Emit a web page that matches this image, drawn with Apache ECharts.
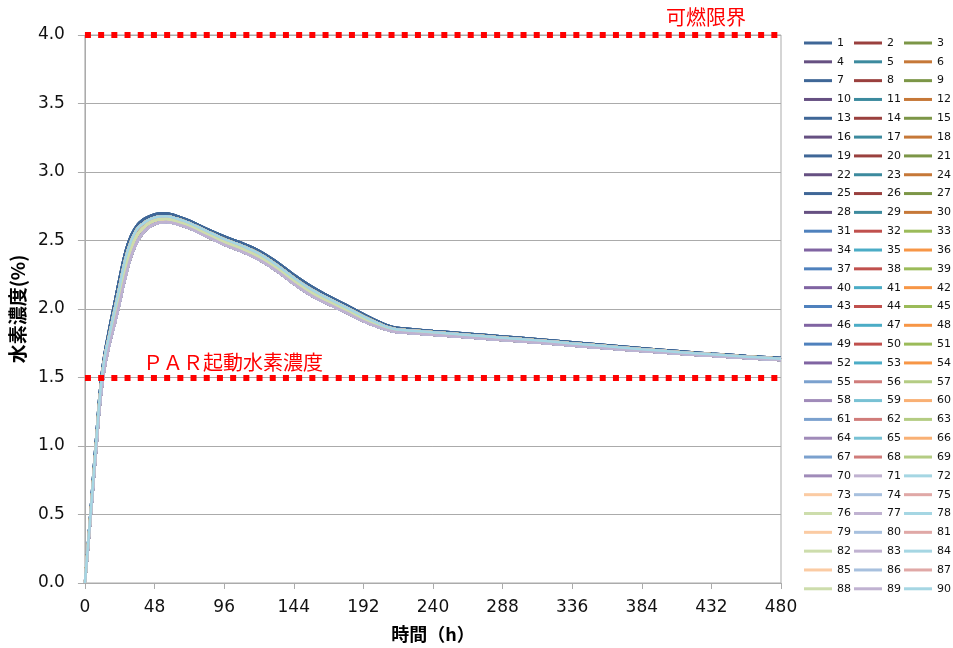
<!DOCTYPE html>
<html>
<head>
<meta charset="utf-8">
<script src="https://cdn.jsdelivr.net/npm/echarts@6/dist/echarts.min.js"></script>
<style>
  html, body { margin: 0; padding: 0; background: #fff; }
  #chart_h2 { width: 953px; height: 648px; }
</style>
</head>
<body>
<div id="chart_h2"></div>
<script>
// 時間 (h)
var hours = [0, 2, 4, 6, 8, 10, 12, 14, 16, 18, 20, 24, 28, 32, 36, 40, 44, 48, 52, 56, 60, 66, 72, 84, 96,
    108, 120, 132, 144, 156, 168, 180, 192, 204, 212, 220, 240, 264, 288, 312, 336, 360, 384, 408, 432, 456, 480];

// 水素濃度 (%) - 帯の上端から下端までの4本
var h2Top = [0, 0.27, 0.54, 0.82, 1.09, 1.36, 1.56, 1.70, 1.81, 1.92, 2.02, 2.23, 2.42, 2.54, 2.612, 2.652, 2.675, 2.69, 2.697, 2.697,
    2.69, 2.668, 2.645, 2.585, 2.53, 2.482, 2.425, 2.345, 2.25, 2.165, 2.095, 2.03, 1.962, 1.90, 1.868, 1.857, 1.84, 1.82, 1.80, 1.78,
    1.757, 1.735, 1.713, 1.693, 1.674, 1.657, 1.642];
var h2Upper = [0, 0.26, 0.52, 0.79, 1.06, 1.33, 1.53, 1.67, 1.77, 1.87, 1.97, 2.17, 2.37, 2.50, 2.585, 2.623, 2.65, 2.667, 2.676, 2.677,
    2.67, 2.65, 2.627, 2.568, 2.51, 2.462, 2.404, 2.323, 2.228, 2.143, 2.075, 2.012, 1.946, 1.887, 1.857, 1.847, 1.831, 1.811, 1.791, 1.771,
    1.749, 1.728, 1.706, 1.687, 1.669, 1.652, 1.637];
var h2Lower = [0, 0.25, 0.50, 0.77, 1.03, 1.30, 1.50, 1.63, 1.73, 1.83, 1.92, 2.11, 2.30, 2.45, 2.54, 2.59, 2.625, 2.645, 2.655, 2.657,
    2.65, 2.63, 2.608, 2.549, 2.49, 2.441, 2.382, 2.302, 2.207, 2.121, 2.055, 1.993, 1.929, 1.874, 1.847, 1.837, 1.821, 1.802, 1.782, 1.763,
    1.741, 1.72, 1.70, 1.681, 1.663, 1.647, 1.632];
var h2Bottom = [0, 0.24, 0.49, 0.75, 1.01, 1.27, 1.46, 1.60, 1.70, 1.79, 1.87, 2.05, 2.24, 2.39, 2.49, 2.555, 2.595, 2.62, 2.632, 2.635,
    2.63, 2.612, 2.59, 2.53, 2.47, 2.42, 2.36, 2.28, 2.185, 2.10, 2.035, 1.975, 1.912, 1.862, 1.838, 1.828, 1.812, 1.793, 1.774, 1.755,
    1.733, 1.713, 1.693, 1.675, 1.658, 1.642, 1.627];

// 基準線
var limitLevels = [4.0, 1.5];
var limitNames = ['可燃限界', 'ＰＡＲ起動水素濃度'];

var caseCount = 90;
var yTicks = [0, 0.5, 1.0, 1.5, 2.0, 2.5, 3.0, 3.5, 4.0];
var xTicks = [0, 48, 96, 144, 192, 240, 288, 336, 384, 432, 480];

// Excel風の配色
var accents = ['#4F81BD', '#C0504D', '#9BBB59', '#8064A2', '#4BACC6', '#F79646'];

function mix(hex, target, t) {
    var r = parseInt(hex.substr(1, 2), 16), g = parseInt(hex.substr(3, 2), 16), b = parseInt(hex.substr(5, 2), 16);
    r = Math.round(r + (target - r) * t);
    g = Math.round(g + (target - g) * t);
    b = Math.round(b + (target - b) * t);
    return 'rgb(' + r + ',' + g + ',' + b + ')';
}

function caseColor(i) {
    var k = i <= 70 ? (i - 1) % 6 : (i - 2) % 6;
    if (i <= 30) return mix(accents[k], 0, 0.2);
    if (i <= 54) return accents[k];
    if (i <= 70) return mix(accents[k], 255, 0.25);
    return mix(accents[k], 255, 0.5);
}

function pairs(vals) {
    return hours.map(function (h, j) { return [h, vals[j]]; });
}

var curves = [pairs(h2Upper), pairs(h2Lower), pairs(h2Bottom)];
var series = [];
var legendCols = [[], [], []];
for (var i = 1; i <= caseCount; i++) {
    var data = (i <= 30 && (i - 1) % 6 === 0) ? pairs(h2Top) : curves[i % 3];
    series.push({
        name: String(i),
        type: 'line',
        data: data,
        showSymbol: false,
        symbol: 'none',
        smooth: 0.4,
        color: caseColor(i),
        lineStyle: { width: 2.5 },
        emphasis: { disabled: true }
    });
    legendCols[(i - 1) % 3].push(String(i));
}

// 赤点線
series.push({
    name: 'limits',
    type: 'line',
    data: [],
    markLine: {
        silent: true,
        symbol: 'none',
        label: { show: false },
        lineStyle: { color: '#FF0000', width: 6, type: [6, 7.2] },
        data: limitLevels.map(function (v) { return { yAxis: v }; })
    }
});

var legends = legendCols.map(function (col, c) {
    return {
        orient: 'vertical',
        left: 804 + c * 50,
        top: 36,
        padding: 0,
        itemWidth: 28,
        itemHeight: 14,
        itemGap: 4.82,
        selectedMode: false,
        icon: 'path://M0,6L28,6L28,9L0,9Z',
        textStyle: { fontFamily: 'DejaVu Sans', fontSize: 11, color: '#111', lineHeight: 14 },
        data: col
    };
});

var chart_h2 = echarts.init(document.getElementById('chart_h2'));

var chart_h2_option = {
    animation: false,
    backgroundColor: '#fff',
    legend: legends,
    grid: {
        left: 83,
        right: 172,
        top: 35,
        bottom: 65,
        show: true,
        borderColor: '#ABABAB',
        borderWidth: 1
    },
    xAxis: {
        type: 'value',
        min: xTicks[0],
        max: xTicks[xTicks.length - 1],
        interval: 48,
        name: '時間（h）',
        nameLocation: 'middle',
        nameGap: 42,
        nameTextStyle: { fontFamily: 'Noto Sans CJK JP', fontSize: 18, fontWeight: 'bold', color: '#000' },
        axisLine: { lineStyle: { color: '#ABABAB', width: 1 } },
        axisTick: { show: true, length: 6, lineStyle: { color: '#ABABAB' } },
        axisLabel: { fontFamily: 'DejaVu Sans', fontSize: 17, color: '#111', margin: 16 },
        splitLine: { show: false }
    },
    yAxis: {
        type: 'value',
        min: yTicks[0],
        max: yTicks[yTicks.length - 1],
        interval: 0.5,
        name: '水素濃度(%)',
        nameLocation: 'middle',
        nameRotate: 90,
        nameGap: 52,
        nameTextStyle: { fontFamily: 'Noto Sans CJK JP', fontSize: 19, fontWeight: 'bold', color: '#000' },
        axisLine: { show: true, lineStyle: { color: '#ABABAB', width: 1 } },
        axisTick: { show: true, length: 7, lineStyle: { color: '#ABABAB' } },
        axisLabel: {
            fontFamily: 'DejaVu Sans', fontSize: 17, color: '#111', margin: 20,
            formatter: function (v) { return v.toFixed(1); }
        },
        splitLine: { lineStyle: { color: '#ABABAB', width: 1 } }
    },
    graphic: [{
        type: 'text',
        x: 706,
        y: 17,
        style: {
            text: limitNames[0],
            font: '20px "Noto Sans CJK JP"',
            fill: '#FF0000',
            textAlign: 'center',
            textVerticalAlign: 'middle'
        }
    }, {
        type: 'text',
        x: 143,
        y: 362,
        style: {
            text: limitNames[1],
            font: '20px "Noto Sans CJK JP"',
            fill: '#FF0000',
            textAlign: 'left',
            textVerticalAlign: 'middle'
        }
    }],
    series: series
};

chart_h2.setOption(chart_h2_option);
</script>
</body>
</html>
